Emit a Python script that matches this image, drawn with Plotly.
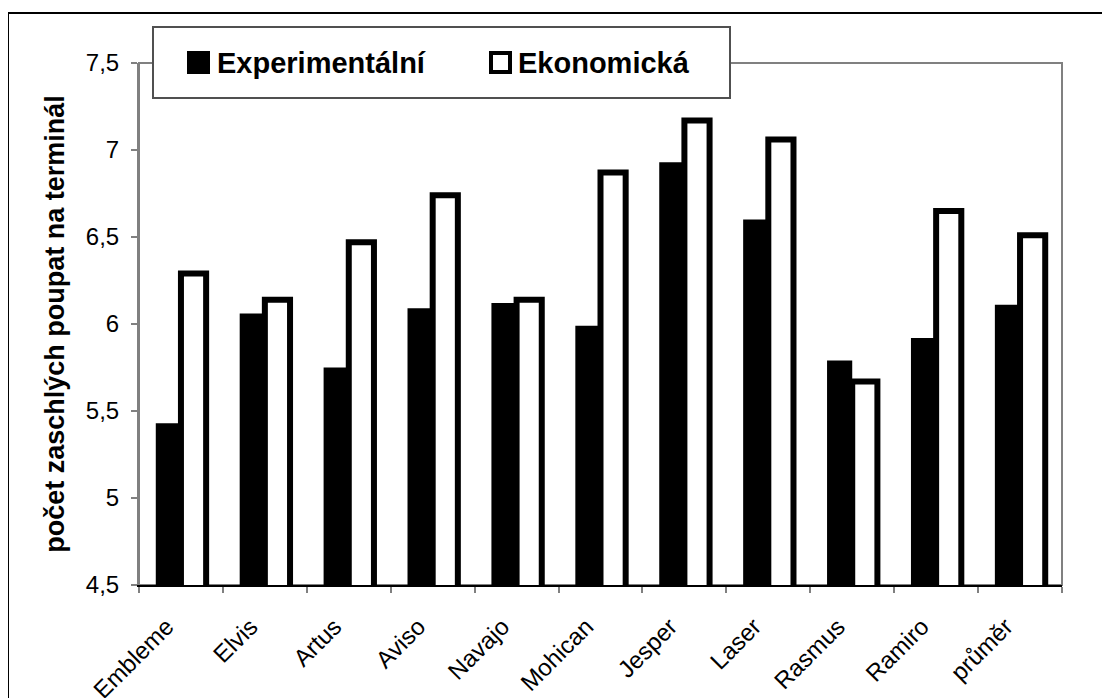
import plotly.graph_objects as go

categories = ["Embleme", "Elvis", "Artus", "Aviso", "Navajo", "Mohican",
              "Jesper", "Laser", "Rasmus", "Ramiro", "průměr"]
experimentalni = [5.43, 6.06, 5.75, 6.09, 6.12, 5.99, 6.93, 6.60, 5.79, 5.92, 6.11]
ekonomicka = [6.29, 6.14, 6.47, 6.74, 6.14, 6.87, 7.17, 7.06, 5.67, 6.65, 6.51]
series_names = ["Experimentální", "Ekonomická"]
y_tickvals = [4.5, 5, 5.5, 6, 6.5, 7, 7.5]
y_ticktext = ["4,5", "5", "5,5", "6", "6,5", "7", "7,5"]
y_title = "počet zaschlých poupat na terminál"

W, H = 1110, 698
L, R, T, B = 131, 1054, 55, 577


def px(x):
    return (x - L) / (R - L)


def py(y):
    return (B - y) / (B - T)


FONT = "Liberation Sans, Arial, sans-serif"
PAD = "\u00a0" * 3

fig = go.Figure()
fig.add_trace(go.Bar(x=categories, y=experimentalni, name=series_names[0],
                     marker=dict(color="black", line=dict(width=0)),
                     showlegend=False))
fig.add_trace(go.Bar(x=categories, y=ekonomicka, name=series_names[1],
                     marker=dict(color="white", line=dict(color="black", width=6)),
                     showlegend=False))

shapes = [
    # plot area border (top/right gray)
    dict(type="rect", xref="paper", yref="paper", x0=0, x1=1, y0=0, y1=1,
         line=dict(color="#808080", width=2), layer="below"),
    # outer chart border
    dict(type="rect", xref="paper", yref="paper", x0=px(0), x1=px(1125),
         y0=py(715), y1=py(5), line=dict(color="black", width=2)),
    # legend box
    dict(type="rect", xref="paper", yref="paper", x0=px(145), x1=px(722),
         y0=py(90), y1=py(19), line=dict(color="#505050", width=2),
         fillcolor="white", layer="above"),
    # legend symbols
    dict(type="rect", xref="paper", yref="paper", x0=px(179), x1=px(202),
         y0=py(66), y1=py(43), line=dict(width=0), fillcolor="black", layer="above"),
    dict(type="rect", xref="paper", yref="paper", x0=px(483), x1=px(502),
         y0=py(64), y1=py(45), line=dict(color="black", width=4),
         fillcolor="white", layer="above"),
]

annotations = [
    dict(xref="paper", yref="paper", x=px(207), y=py(55), xanchor="left",
         yanchor="middle", showarrow=False, text="<b>" + series_names[0] + "</b>",
         font=dict(family=FONT, size=29, color="black")),
    dict(xref="paper", yref="paper", x=px(508), y=py(55), xanchor="left",
         yanchor="middle", showarrow=False, text="<b>" + series_names[1] + "</b>",
         font=dict(family=FONT, size=29, color="black")),
]

fig.update_layout(
    width=W, height=H,
    margin=dict(l=L, r=W - R, t=T, b=H - B, pad=0, autoexpand=False),
    paper_bgcolor="white", plot_bgcolor="white",
    barmode="group", bargap=0.4, bargroupgap=0,
    font=dict(family=FONT, size=24, color="black"),
    shapes=shapes, annotations=annotations,
    showlegend=False,
)
fig.update_xaxes(
    showline=True, linecolor="black", linewidth=2,
    ticks="outside", tickson="boundaries", ticklen=6, tickwidth=2, tickcolor="#808080",
    tickangle=-45, tickfont=dict(size=24), showgrid=False, zeroline=False,
    tickmode="array", tickvals=categories, ticktext=[c + PAD for c in categories],
    ticklabelstandoff=2, automargin=False,
)
fig.update_yaxes(
    range=[4.5, 7.5], tickvals=y_tickvals, ticktext=y_ticktext,
    showline=True, linecolor="#808080", linewidth=2,
    ticks="outside", ticklen=6, tickwidth=2, tickcolor="#808080",
    tickfont=dict(size=24), showgrid=False, zeroline=False,
    ticklabelstandoff=7, automargin=False,
    title=dict(text="<b>" + y_title + "</b>", font=dict(size=27), standoff=13),
)

fig.write_html("out.html")
